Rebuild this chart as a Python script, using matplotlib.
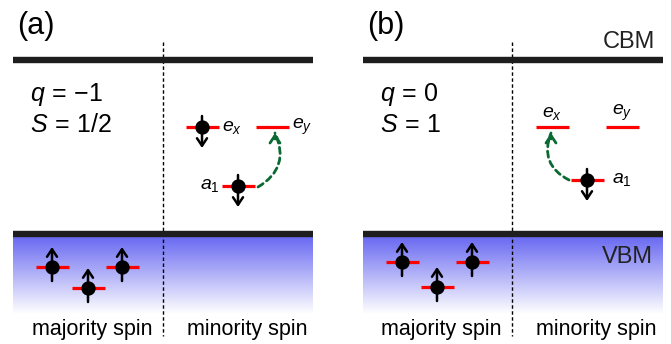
import numpy as np
import matplotlib.pyplot as plt
from matplotlib.colors import LinearSegmentedColormap

plt.rcParams['font.family'] = 'Liberation Sans'
plt.rcParams['mathtext.fontset'] = 'custom'
plt.rcParams['mathtext.rm'] = 'Liberation Sans'
plt.rcParams['mathtext.it'] = 'Liberation Sans:italic'

# panel tags and defect states
panel_tags = ['(a)', '(b)']
charges = [r'$q\,=\,{-}1$', r'$q\,=\,0$']
spins = [r'$S\,=\,1/2$', r'$S\,=\,1$']

# gap levels of the minority channel: e_x, e_y, a_1
gap_names = ['$e_x$', '$e_y$', '$a_1$']
gap_x = [[202, 272, 238], [552, 622, 587]]
gap_y = [[127, 127, 186], [127, 127, 180]]
gap_occ = [[True, False, True], [False, False, True]]

# occupied majority levels inside the valence band
vb_x = [[52, 88, 122], [402, 437, 472]]
vb_y = [[267, 288, 267], [262, 287, 262]]

# band edges and spin channel divider
cbm_y = 60
vbm_y = 234
panel_x = [(13, 313), (363, 663)]
divider_x = [163, 512]

W, H = 671, 344
fig = plt.figure(figsize=(W / 100, H / 100), dpi=100)
ax = fig.add_axes([0, 0, 1, 1])

blues = LinearSegmentedColormap.from_list('vb', ['#6a6af2', '#ffffff'])
grad = np.linspace(0, 1, 200).reshape(-1, 1)


def level(x, y):
    ax.plot([x - 16.5, x + 16.5], [y, y], color='red', lw=2.3,
            solid_capstyle='butt', zorder=3)


def electron(x, y, up):
    ax.plot(x, y, 'o', ms=9.3, color='black', zorder=5)
    if up:
        tail, tip = y + 14, y - 20
    else:
        tail, tip = y - 11, y + 21
    ax.annotate('', xy=(x, tip), xytext=(x, tail),
                arrowprops=dict(arrowstyle='->,head_length=0.45,head_width=0.3',
                                lw=1.8, color='black', shrinkA=0, shrinkB=0,
                                mutation_scale=12), zorder=4)


def hop(start, end, rad):
    # dashed excitation path with a solid head at the target level
    ax.annotate('', xy=end, xytext=start,
                arrowprops=dict(arrowstyle='-', lw=2.0, color='#0a6a32',
                                linestyle=(0, (2.2, 1.6)), shrinkA=0, shrinkB=0,
                                connectionstyle=f'arc3,rad={rad}'), zorder=4)
    ax.annotate('', xy=end, xytext=(end[0], end[1] + 6),
                arrowprops=dict(arrowstyle='->,head_length=0.45,head_width=0.3',
                                lw=2.0, color='#0a6a32', shrinkA=0, shrinkB=0,
                                mutation_scale=12), zorder=4)


for p in range(2):
    x0, x1 = panel_x[p]
    ax.imshow(grad, extent=[x0, x1, vbm_y + 3, 314], origin='lower',
              aspect='auto', cmap=blues, zorder=0)
    ax.plot([x0, x1], [cbm_y, cbm_y], color='#1e1e1e', lw=4.6,
            solid_capstyle='butt', zorder=2)
    ax.plot([x0, x1], [vbm_y, vbm_y], color='#1e1e1e', lw=4.6,
            solid_capstyle='butt', zorder=2)
    ax.plot([divider_x[p], divider_x[p]], [42, 336], color='black', lw=1.0,
            linestyle=(0, (2.5, 1.8)), zorder=1)

    ax.text(x0 + 4, 26, panel_tags[p], fontsize=22, ha='left', va='center')
    ax.text(x0 + 17, 95, charges[p], fontsize=18, ha='left', va='center')
    ax.text(x0 + 17, 125, spins[p], fontsize=18, ha='left', va='center')
    ax.text(divider_x[p] - 71, 329, 'majority spin', fontsize=15.5,
            ha='center', va='center')
    ax.text(divider_x[p] + 84, 329, 'minority spin', fontsize=15.5,
            ha='center', va='center')

    for x, y in zip(vb_x[p], vb_y[p]):
        level(x, y)
        electron(x, y, True)

    for x, y, occ in zip(gap_x[p], gap_y[p], gap_occ[p]):
        level(x, y)
        if occ:
            electron(x, y, False)

# level labels: beside the levels in (a), above e_x / e_y in (b)
ax.text(gap_x[0][0] + 20, gap_y[0][0], gap_names[0], fontsize=14,
        ha='left', va='center')
ax.text(gap_x[0][1] + 20, gap_y[0][1], gap_names[1], fontsize=14,
        ha='left', va='center')
ax.text(gap_x[0][2] - 18, gap_y[0][2], gap_names[2], fontsize=14,
        ha='right', va='center')
ax.text(gap_x[1][0], gap_y[1][0] - 14, gap_names[0], fontsize=14,
        ha='center', va='center')
ax.text(gap_x[1][1], gap_y[1][1] - 14, gap_names[1], fontsize=14,
        ha='center', va='center')
ax.text(gap_x[1][2] + 25, gap_y[1][2], gap_names[2], fontsize=14,
        ha='left', va='center')

hop((258, 187), (275, 133), 0.45)
hop((569, 180), (551, 133), -0.45)

ax.text(655, 42, 'CBM', fontsize=17, ha='right', va='center', color='#222222')
ax.text(653, 257, 'VBM', fontsize=17, ha='right', va='center', color='#222222')

ax.set_xlim(0, W)
ax.set_ylim(H, 0)
ax.axis('off')

fig.savefig('out.png', dpi=100)
